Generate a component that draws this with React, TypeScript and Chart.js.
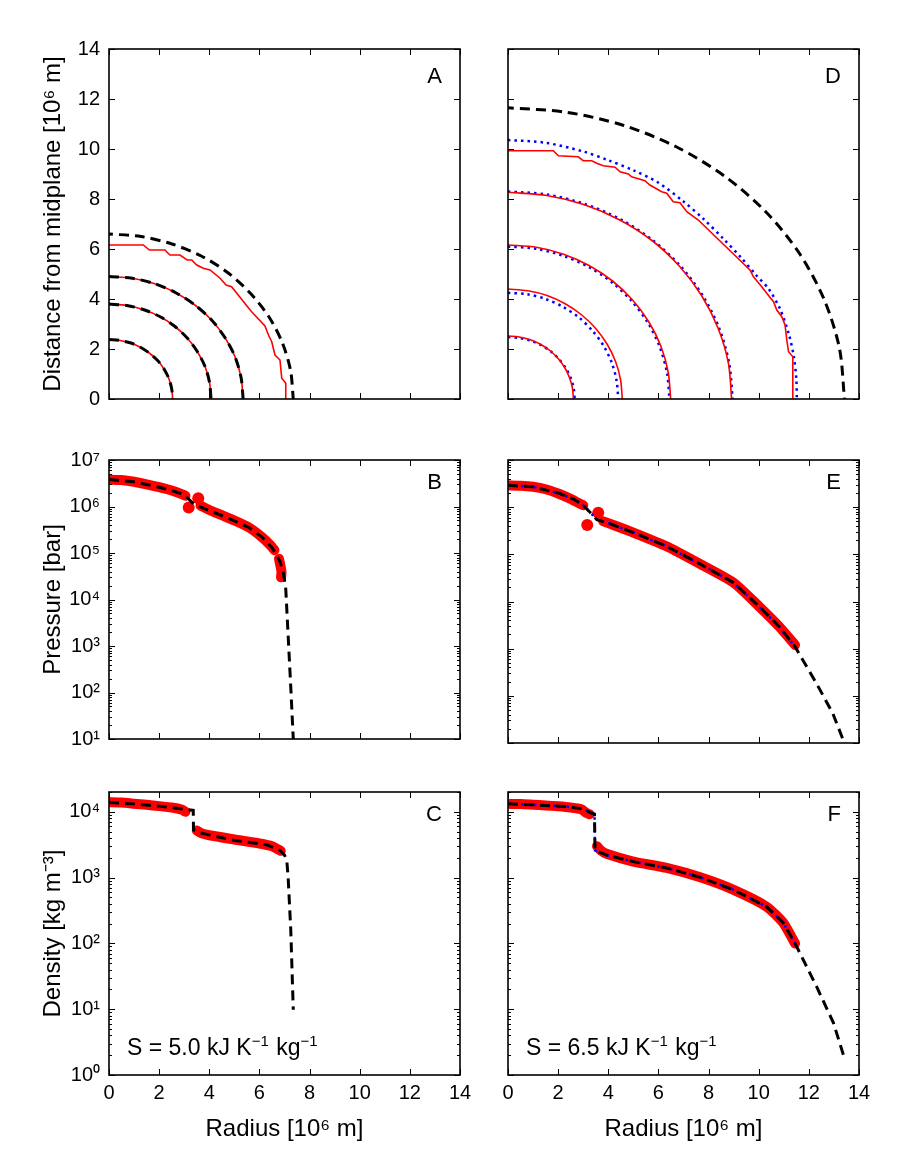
import React, { useEffect, useRef } from "react";
import { Chart, registerables } from "chart.js";
Chart.register(...registerables);

// ---------- tick labels ----------
const radiusTicks = [0, 2, 4, 6, 8, 10, 12, 14];
const distanceTicks = [0, 2, 4, 6, 8, 10, 12, 14];
const pressureTicks = [10, 100, 1e3, 1e4, 1e5, 1e6, 1e7];
const densityTicks = [1, 10, 100, 1e3, 1e4];

// ---------- Panel A (S = 5.0) shape ----------
const aCoreX = [0, 0.44, 0.87, 1.27, 1.63, 1.95, 2.2, 2.39, 2.5, 2.54];
const aCoreY = [2.38, 2.34, 2.24, 2.06, 1.82, 1.53, 1.19, 0.81, 0.41, 0];
const aMidX = [0, 0.71, 1.39, 2.04, 2.62, 3.12, 3.52, 3.83, 4.01, 4.07];
const aMidY = [3.8, 3.74, 3.57, 3.29, 2.91, 2.44, 1.9, 1.3, 0.66, 0];
const aOuterX = [0, 0.93, 1.83, 2.68, 3.44, 4.1, 4.63, 5.03, 5.27, 5.35];
const aOuterY = [4.9, 4.83, 4.61, 4.24, 3.75, 3.15, 2.45, 1.68, 0.85, 0];
const aSurfModelX = [0, 1.28, 2.51, 3.68, 4.73, 5.63, 6.37, 6.91, 7.24, 7.35];
const aSurfModelY = [6.6, 6.5, 6.2, 5.72, 5.06, 4.24, 3.3, 2.26, 1.15, 0];
const aSurfSimX = [0, 1.37, 1.61, 2.23, 2.43, 2.83, 3.12, 3.3, 3.5, 3.76, 4.03, 4.43, 4.67, 4.89, 5.47, 5.69, 6.22, 6.36, 6.49, 6.62, 6.82, 6.89, 7.05, 7.05];
const aSurfSimY = [6.16, 6.16, 5.96, 5.96, 5.76, 5.76, 5.56, 5.56, 5.36, 5.23, 5.16, 4.83, 4.56, 4.49, 3.76, 3.49, 2.92, 2.56, 2.29, 1.76, 1.56, 0.83, 0.63, 0];

// ---------- Panel D (S = 6.5) shape ----------
const dRed1X = [0, 0.45, 0.89, 1.31, 1.68, 2.0, 2.26, 2.45, 2.57, 2.61];
const dRed1Y = [2.52, 2.48, 2.37, 2.18, 1.93, 1.62, 1.26, 0.86, 0.44, 0];
const dBlue1X = [0, 0.46, 0.91, 1.33, 1.71, 2.04, 2.3, 2.5, 2.62, 2.66];
const dBlue1Y = [2.48, 2.44, 2.33, 2.15, 1.9, 1.59, 1.24, 0.85, 0.43, 0];
const dRed2X = [0, 0.79, 1.56, 2.28, 2.93, 3.49, 3.95, 4.29, 4.49, 4.56];
const dRed2Y = [4.4, 4.33, 4.14, 3.81, 3.37, 2.83, 2.2, 1.5, 0.77, 0];
const dBlue2X = [0, 0.77, 1.5, 2.2, 2.83, 3.37, 3.81, 4.14, 4.33, 4.4];
const dBlue2Y = [4.25, 4.19, 4.0, 3.68, 3.26, 2.73, 2.13, 1.45, 0.74, 0];
const dRed3X = [0, 1.13, 2.22, 3.25, 4.17, 4.97, 5.62, 6.1, 6.39, 6.49];
const dRed3Y = [6.16, 6.07, 5.79, 5.33, 4.72, 3.96, 3.08, 2.11, 1.07, 0];
const dBlue3X = [0, 1.12, 2.2, 3.22, 4.14, 4.93, 5.58, 6.05, 6.34, 6.44];
const dBlue3Y = [6.1, 6.01, 5.73, 5.28, 4.67, 3.92, 3.05, 2.09, 1.06, 0];
const dRed4X = [0, 1.55, 3.05, 4.46, 5.74, 6.83, 7.72, 8.38, 8.79, 8.92];
const dRed4Y = [8.27, 8.14, 7.77, 7.16, 6.34, 5.32, 4.14, 2.83, 1.44, 0];
const dBlue4X = [0, 1.56, 3.06, 4.48, 5.76, 6.86, 7.76, 8.42, 8.82, 8.96];
const dBlue4Y = [8.3, 8.18, 7.8, 7.19, 6.36, 5.34, 4.15, 2.84, 1.44, 0];
const dSurfSimX = [0, 1.81, 2.01, 2.8, 3.0, 3.34, 3.54, 3.8, 4.27, 4.47, 4.8, 4.93, 5.46, 5.66, 6.13, 6.33, 6.59, 6.86, 7.13, 7.59, 9.65, 9.79, 10.12, 10.32, 10.59, 10.72, 10.92, 11.05, 11.12, 11.19, 11.36, 11.36];
const dSurfSimY = [9.93, 9.93, 9.73, 9.69, 9.53, 9.53, 9.43, 9.33, 9.27, 9.09, 9.0, 8.89, 8.73, 8.56, 8.29, 8.23, 7.89, 7.85, 7.49, 7.16, 5.16, 4.89, 4.49, 4.23, 3.89, 3.56, 3.29, 2.96, 2.36, 1.89, 1.69, 0];
const dSurfDotX = [0, 1.5, 3.0, 4.0, 5.0, 6.0, 7.0, 7.8, 8.6, 9.3, 9.9, 10.4, 10.85, 11.2, 11.4, 11.5, 11.52];
const dSurfDotY = [10.36, 10.25, 9.9, 9.55, 9.15, 8.65, 7.9, 7.2, 6.4, 5.65, 4.95, 4.4, 3.6, 2.6, 1.7, 0.8, 0];
const dSurfModelX = [0, 2.33, 4.59, 6.71, 8.63, 10.28, 11.62, 12.61, 13.22, 13.42];
const dSurfModelY = [11.65, 11.47, 10.95, 10.09, 8.92, 7.49, 5.83, 3.98, 2.03, 0];

// ---------- Panel B pressure ----------
const bModelX = [0, 1.0, 2.0, 2.5, 3.0, 3.4, 4.0, 4.5, 5.0, 5.6, 6.1, 6.5, 6.8, 6.95, 7.05, 7.15, 7.25, 7.35];
const bModelP = [3.8e6, 3.4e6, 2.6e6, 2.2e6, 1.8e6, 1.1e6, 8.2e5, 6.4e5, 4.9e5, 3.5e5, 2.2e5, 1.3e5, 7e4, 4e4, 1.7e4, 1.5e3, 130, 10];
const bSimCoreX = [0, 0.5, 1.0, 1.5, 2.0, 2.5, 2.9, 3.05];
const bSimCoreP = [3.8e6, 3.7e6, 3.4e6, 3.0e6, 2.6e6, 2.2e6, 1.85e6, 1.7e6];
const bSimMantleX = [3.65, 4.0, 4.5, 5.0, 5.6, 6.1, 6.45, 6.6];
const bSimMantleP = [1.05e6, 8.4e5, 6.5e5, 5.0e5, 3.5e5, 2.2e5, 1.45e5, 1.15e5];
const bSimEdgeX = [6.78, 6.85, 6.88, 6.86];
const bSimEdgeP = [7.5e4, 5e4, 3.8e4, 3.0e4];
const bSimDotX = [3.18, 3.56];
const bSimDotP = [9.5e5, 1.5e6];

// ---------- Panel E pressure ----------
const eModelX = [0, 1.0, 2.0, 2.6, 3.0, 3.3, 3.55, 4.0, 5.0, 6.3, 7.6, 9.0, 10.0, 10.8, 11.45, 12.3, 12.95, 13.45];
const eModelP = [2.9e6, 2.7e6, 2.0e6, 1.5e6, 1.1e6, 7.5e5, 5.4e5, 4.6e5, 2.9e5, 1.5e5, 6.5e4, 2.5e4, 8e3, 3e3, 1.1e3, 185, 43, 9];
const eSimCoreX = [0, 0.5, 1.0, 1.5, 2.0, 2.5, 2.85, 3.0];
const eSimCoreP = [2.9e6, 2.85e6, 2.7e6, 2.4e6, 1.95e6, 1.5e6, 1.2e6, 1.1e6];
const eSimMantleX = [3.8, 4.2, 5.0, 6.3, 7.6, 9.0, 10.0, 10.8, 11.45];
const eSimMantleP = [5.0e5, 4.2e5, 2.9e5, 1.5e5, 6.5e4, 2.5e4, 8e3, 3e3, 1.2e3];
const eSimDotX = [3.16, 3.6];
const eSimDotP = [4.2e5, 7.6e5];

// ---------- Panel C density ----------
const cModelX = [0, 1.0, 2.0, 2.96, 3.36, 3.37, 3.63, 4.96, 6.29, 6.82, 7.0, 7.09, 7.15, 7.25, 7.35];
const cModelR = [1.38e4, 1.32e4, 1.22e4, 1.1e4, 1.05e4, 5.3e3, 4.8e3, 3.7e3, 3.15e3, 2.6e3, 2.2e3, 1.87e3, 930, 160, 9.8];
const cSimCoreX = [0, 0.5, 1.0, 1.5, 2.0, 2.5, 2.9, 3.05];
const cSimCoreR = [1.4e4, 1.38e4, 1.33e4, 1.28e4, 1.22e4, 1.16e4, 1.08e4, 1.0e4];
const cSimMantleX = [3.5, 3.7, 4.0, 5.0, 6.0, 6.5, 6.85];
const cSimMantleR = [5.2e3, 4.7e3, 4.4e3, 3.8e3, 3.3e3, 3.0e3, 2.55e3];

// ---------- Panel F density ----------
const fModelX = [0, 1.0, 2.34, 3.0, 3.34, 3.45, 3.47, 3.93, 5.0, 6.33, 7.7, 9.0, 10.32, 10.98, 11.45, 12.31, 12.98, 13.42];
const fModelR = [1.32e4, 1.28e4, 1.2e4, 1.1e4, 9.5e3, 9.2e3, 2.6e3, 2.2e3, 1.75e3, 1.4e3, 1.0e3, 650, 360, 205, 100, 22, 6.2, 1.8];
const fSimCoreX = [0, 0.5, 1.0, 1.5, 2.0, 2.5, 2.9, 3.15, 3.25];
const fSimCoreR = [1.32e4, 1.31e4, 1.28e4, 1.25e4, 1.21e4, 1.16e4, 1.1e4, 9.5e3, 9.2e3];
const fSimMantleX = [3.55, 3.7, 3.93, 5.0, 6.33, 7.7, 9.0, 10.32, 10.98, 11.45];
const fSimMantleR = [3.0e3, 2.6e3, 2.3e3, 1.75e3, 1.4e3, 1.0e3, 650, 360, 205, 100];

// ---------- styling helpers ----------
const FONT = '"Liberation Sans", Arial, Helvetica, sans-serif';
const RED = "#ff0000";
const BLUE = "#0000ff";

const pts = (xs: number[], ys: number[]) => xs.map((x, i) => ({ x, y: ys[i] }));

const modelLine = (xs: number[], ys: number[], tension = 0, dashOffset = 0) => ({
  data: pts(xs, ys), borderColor: "#000", borderWidth: 3, borderDash: [10, 6],
  borderDashOffset: dashOffset, pointRadius: 0, fill: false, tension,
});
const thinRed = (xs: number[], ys: number[], tension = 0) => ({
  data: pts(xs, ys), borderColor: RED, borderWidth: 1.6, pointRadius: 0, fill: false, tension,
});
const blueDots = (xs: number[], ys: number[], tension = 0) => ({
  data: pts(xs, ys), borderColor: BLUE, borderWidth: 2.5, borderDash: [2.5, 4],
  pointRadius: 0, fill: false, tension,
});
const thickRed = (xs: number[], ys: number[]) => ({
  data: pts(xs, ys), borderColor: RED, borderWidth: 10, borderCapStyle: "round",
  borderJoinStyle: "round", pointRadius: 0, fill: false, tension: 0.2,
});
const redBlobs = (xs: number[], ys: number[]) => ({
  data: pts(xs, ys), showLine: false, pointRadius: 6, pointBorderWidth: 0,
  pointBackgroundColor: RED, pointBorderColor: RED, borderColor: RED,
});

const supMap: Record<string, string> = {
  "0": "⁰", "1": "¹", "2": "²", "3": "³", "4": "⁴", "5": "⁵", "6": "⁶", "7": "⁷", "-": "⁻",
};
const powLabel = (v: number) => "10" + String(Math.round(Math.log10(v))).split("").map((c) => supMap[c]).join("");

type Spec = {
  letter: string; left: number; top: number; w: number; h: number;
  yw: number; xh: number; padTop: number; padRight: number;
  yType: "linear" | "logarithmic"; yMin: number; yMax: number; yTicks: number[];
  yTitle: string; showY: boolean; showX: boolean; letterDy: number;
  note?: string; datasets: any[];
};

function makePlugin(spec: Spec) {
  return {
    id: "frame" + spec.letter,
    afterDatasetsDraw(chart: any) {
      const { ctx, chartArea: ca, scales } = chart;
      const xs = scales.x;
      const ys = scales.y;
      ctx.save();
      ctx.strokeStyle = "#000";
      ctx.lineWidth = 1;
      ctx.beginPath();
      for (const v of radiusTicks) {
        const px = Math.round(xs.getPixelForValue(v)) + 0.5;
        ctx.moveTo(px, ca.bottom); ctx.lineTo(px, ca.bottom - 6);
        ctx.moveTo(px, ca.top); ctx.lineTo(px, ca.top + 6);
      }
      if (spec.yType === "linear") {
        for (const v of spec.yTicks) {
          const py = Math.round(ys.getPixelForValue(v)) + 0.5;
          ctx.moveTo(ca.left, py); ctx.lineTo(ca.left + 6, py);
          ctx.moveTo(ca.right, py); ctx.lineTo(ca.right - 6, py);
        }
      } else {
        for (const dec of spec.yTicks) {
          for (let k = 1; k <= 9; k++) {
            const v = k * dec;
            if (v < spec.yMin - 1e-9 || v > spec.yMax + 1e-9) continue;
            const len = k === 1 ? 6 : 3;
            const py = Math.round(ys.getPixelForValue(v)) + 0.5;
            ctx.moveTo(ca.left, py); ctx.lineTo(ca.left + len, py);
            ctx.moveTo(ca.right, py); ctx.lineTo(ca.right - len, py);
          }
        }
      }
      ctx.stroke();
      ctx.lineWidth = 1.6;
      ctx.strokeRect(ca.left, ca.top, ca.right - ca.left, ca.bottom - ca.top);
      ctx.fillStyle = "#000";
      ctx.font = `22px ${FONT}`;
      ctx.textAlign = "right";
      ctx.textBaseline = "alphabetic";
      ctx.fillText(spec.letter, ca.right - 18, ca.top + spec.letterDy);
      if (spec.note) {
        const parts = [
          { t: `S = ${spec.note} kJ K`, s: false },
          { t: "−1", s: true },
          { t: " kg", s: false },
          { t: "−1", s: true },
        ];
        let x = ca.left + 18;
        const base = ca.bottom - 20;
        ctx.textAlign = "left";
        for (const p of parts) {
          ctx.font = p.s ? `15px ${FONT}` : `23px ${FONT}`;
          ctx.fillText(p.t, x, p.s ? base - 9 : base);
          x += ctx.measureText(p.t).width + (p.s ? 1 : 0);
        }
      }
      ctx.restore();
    },
  };
}

function buildConfig(spec: Spec): any {
  return {
    type: "line",
    data: { datasets: spec.datasets },
    options: {
      animation: false,
      responsive: false,
      maintainAspectRatio: false,
      devicePixelRatio: 1,
      events: [],
      layout: { padding: { left: 0, right: spec.padRight, top: spec.padTop, bottom: 0 } },
      plugins: { legend: { display: false }, tooltip: { enabled: false } },
      scales: {
        x: {
          type: "linear", min: 0, max: 14,
          afterBuildTicks: (s: any) => { s.ticks = radiusTicks.map((v) => ({ value: v })); },
          afterFit: (s: any) => { s.height = spec.xh; },
          grid: { display: false, drawTicks: false },
          border: { display: false },
          ticks: {
            display: spec.showX, padding: 6, color: "#000", autoSkip: false, maxRotation: 0,
            font: { family: FONT, size: 20 },
            callback: (v: any) => String(v),
          },
          title: {
            display: spec.showX, text: "Radius [10⁶ m]", color: "#000",
            font: { family: FONT, size: 24 }, padding: { top: 0, bottom: 26 },
          },
        },
        y: {
          type: spec.yType, min: spec.yMin, max: spec.yMax,
          afterBuildTicks: (s: any) => { s.ticks = spec.yTicks.map((v) => ({ value: v })); },
          afterFit: (s: any) => { s.width = spec.yw; },
          grid: { display: false, drawTicks: false },
          border: { display: false },
          ticks: {
            display: spec.showY, padding: 9, color: "#000", autoSkip: false,
            font: { family: FONT, size: 20 },
            callback: (v: any) => (spec.yType === "linear" ? String(v) : powLabel(Number(v))),
          },
          title: {
            display: spec.showY, text: spec.yTitle, color: "#000",
            font: { family: FONT, size: 24 }, padding: { top: 39, bottom: 0 },
          },
        },
      },
    },
    plugins: [makePlugin(spec)],
  };
}

const LEFT = { left: 0, w: 480, yw: 109, padRight: 20, showY: true };
const RIGHT = { left: 480, w: 420, yw: 28, padRight: 41, showY: false };
const TOP = { top: 0, h: 420, padTop: 49, xh: 21, showX: false, letterDy: 34 };
const MID = { top: 420, h: 340, padTop: 40, xh: 17, showX: false, letterDy: 29 };
const BOT = { top: 760, h: 410, padTop: 32, xh: 95, showX: true, letterDy: 29 };

const distY = { yType: "linear" as const, yMin: 0, yMax: 14, yTicks: distanceTicks, yTitle: "Distance from midplane [10⁶ m]" };
const presY = { yType: "logarithmic" as const, yMin: 10, yMax: 1e7, yTicks: pressureTicks, yTitle: "Pressure [bar]" };
const densY = { yType: "logarithmic" as const, yMin: 1, yMax: 2e4, yTicks: densityTicks, yTitle: "Density [kg m⁻³]" };

const specs: Spec[] = [
  {
    letter: "A", ...LEFT, ...TOP, ...distY,
    datasets: [
      modelLine(aCoreX, aCoreY, 0.3), modelLine(aMidX, aMidY, 0.3), modelLine(aOuterX, aOuterY, 0.3),
      modelLine(aSurfModelX, aSurfModelY, 0.3, 6),
      thinRed(aCoreX, aCoreY, 0.3), thinRed(aMidX, aMidY, 0.3), thinRed(aOuterX, aOuterY, 0.3),
      thinRed(aSurfSimX, aSurfSimY, 0),
    ],
  },
  {
    letter: "D", ...RIGHT, ...TOP, ...distY,
    datasets: [
      modelLine(dSurfModelX, dSurfModelY, 0.3, 4),
      thinRed(dRed1X, dRed1Y, 0.3), thinRed(dRed2X, dRed2Y, 0.3), thinRed(dRed3X, dRed3Y, 0.3),
      thinRed(dRed4X, dRed4Y, 0.3), thinRed(dSurfSimX, dSurfSimY, 0),
      blueDots(dBlue1X, dBlue1Y, 0.3), blueDots(dBlue2X, dBlue2Y, 0.3), blueDots(dBlue3X, dBlue3Y, 0.3),
      blueDots(dBlue4X, dBlue4Y, 0.3), blueDots(dSurfDotX, dSurfDotY, 0.3),
    ],
  },
  {
    letter: "B", ...LEFT, ...MID, ...presY,
    datasets: [
      modelLine(bModelX, bModelP),
      thickRed(bSimCoreX, bSimCoreP), thickRed(bSimMantleX, bSimMantleP), thickRed(bSimEdgeX, bSimEdgeP),
      redBlobs(bSimDotX, bSimDotP),
    ],
  },
  {
    letter: "E", ...RIGHT, ...MID, ...presY,
    datasets: [
      modelLine(eModelX, eModelP),
      blueDots(eModelX.slice(0, 15), eModelP.slice(0, 15)),
      thickRed(eSimCoreX, eSimCoreP), thickRed(eSimMantleX, eSimMantleP),
      redBlobs(eSimDotX, eSimDotP),
    ],
  },
  {
    letter: "C", ...LEFT, ...BOT, ...densY, note: "5.0",
    datasets: [
      modelLine(cModelX, cModelR),
      thickRed(cSimCoreX, cSimCoreR), thickRed(cSimMantleX, cSimMantleR),
    ],
  },
  {
    letter: "F", ...RIGHT, ...BOT, ...densY, note: "6.5",
    datasets: [
      modelLine(fModelX, fModelR),
      blueDots(fModelX.slice(0, 15), fModelR.slice(0, 15)),
      thickRed(fSimCoreX, fSimCoreR), thickRed(fSimMantleX, fSimMantleR),
    ],
  },
];

function Panel({ spec }: { spec: Spec }) {
  const ref = useRef<HTMLCanvasElement>(null);
  useEffect(() => {
    const chart = new Chart(ref.current as HTMLCanvasElement, buildConfig(spec));
    return () => chart.destroy();
  }, [spec]);
  return (
    <canvas
      ref={ref}
      width={spec.w}
      height={spec.h}
      style={{ position: "absolute", left: spec.left, top: spec.top, width: spec.w, height: spec.h }}
    />
  );
}

export default function App() {
  return (
    <div style={{ position: "absolute", left: 0, top: 0, width: 900, height: 1170, background: "#fff" }}>
      {specs.map((s) => (
        <Panel key={s.letter} spec={s} />
      ))}
    </div>
  );
}
